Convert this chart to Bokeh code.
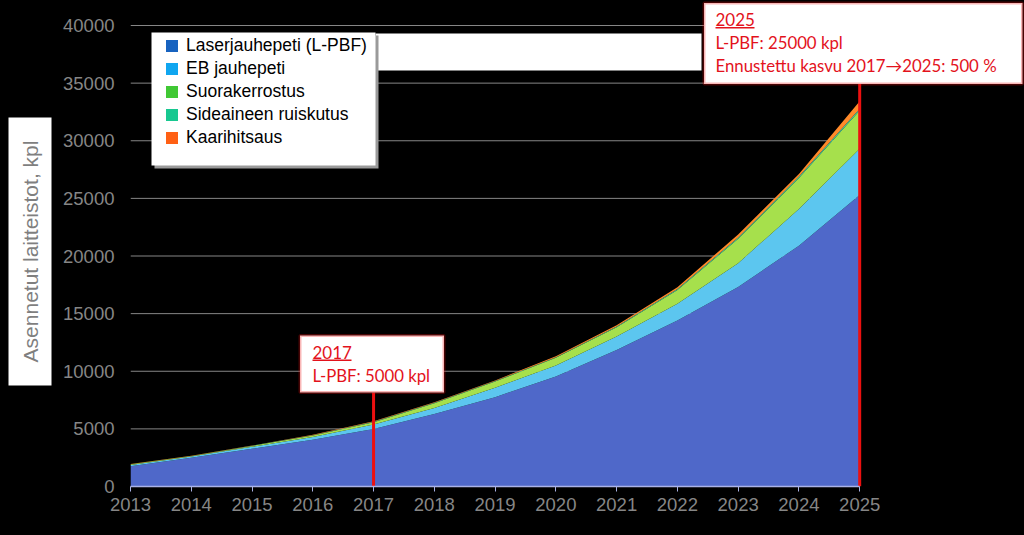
from math import pi
from bokeh.plotting import figure
from bokeh.layouts import row
from bokeh.models import (ColumnDataSource, Range1d, FixedTicker, BoxAnnotation,
                          Label, Legend, LegendItem)
from bokeh.embed import file_html
from bokeh.resources import INLINE

# ---------------- data ----------------
years = [2013, 2014, 2015, 2016, 2017, 2018, 2019, 2020, 2021, 2022, 2023, 2024, 2025]
laser = [1750, 2490, 3270, 4050, 5000, 6300, 7750, 9550, 11850, 14400, 17300, 20900, 25300]
eb    = [110, 110, 170, 250, 380, 520, 810, 950, 1160, 1450, 2080, 3180, 4000]
suora = [60, 40, 80, 120, 200, 400, 550, 670, 810, 1210, 2110, 2690, 3320]
sidea = [20, 15, 20, 30, 40, 40, 40, 50, 60, 80, 110, 120, 150]
kaari = [20, 15, 20, 30, 40, 50, 50, 90, 110, 150, 270, 230, 650]

series_keys = ["laser", "eb", "suora", "sidea", "kaari"]
series_names = ["Laserjauhepeti (L-PBF)", "EB jauhepeti", "Suorakerrostus",
                "Sideaineen ruiskutus", "Kaarihitsaus"]
y_ticks = [0, 5000, 10000, 15000, 20000, 25000, 30000, 35000, 40000]
y_title = "Asennetut laitteistot, kpl"

note_years = [2017, 2025]
note_titles = ["2017", "2025"]
note_lines = [["L-PBF: 5000 kpl"],
              ["L-PBF: 25000 kpl", "Ennustettu kasvu 2017\u21922025: 500 %"]]

# ---------------- styles / layout ----------------
area_colors = ["#4f68c9", "#5cc6ef", "#a6e04c", "#3fc9a0", "#ff8a2a"]
legend_colors = ["#1763c0", "#10a6f0", "#40c834", "#18c890", "#ff6014"]
RED_TEXT = "#e3121c"
RED_LINE = "#ec1010"
GRAY = "#868686"

PAGE_W, PAGE_H = 1024, 535
TITLE_W = 60
F_LEFT, F_RIGHT_DATA_PX, F_TOP, F_BOTTOM = 129, 859, 0, 486   # frame geometry (page px)
TEXT_SHIFT = 5.5  # correction for bokeh's alphabetic baseline placement

px_per_year = (F_RIGHT_DATA_PX - F_LEFT) / (years[-1] - years[0])
x_end = years[-1] + (PAGE_W - F_RIGHT_DATA_PX) / px_per_year
px_per_unit = (F_BOTTOM - 25) / y_ticks[-1]
y_end = (F_BOTTOM - F_TOP) / px_per_unit


def sx(px):
    return px - F_LEFT


def sy(py):
    return F_BOTTOM - py


def data_y(py):
    return (F_BOTTOM - py) / px_per_unit


# ---------------- y title figure ----------------
q = figure(width=TITLE_W, height=PAGE_H, x_range=Range1d(0, TITLE_W),
           y_range=Range1d(0, PAGE_H), output_backend="svg", toolbar_location=None,
           x_axis_location=None, y_axis_location=None,
           min_border_left=0, min_border_right=0, min_border_top=F_TOP,
           min_border_bottom=PAGE_H - F_BOTTOM,
           background_fill_color="black", border_fill_color="black",
           outline_line_color=None)
q.grid.visible = False
q.add_layout(BoxAnnotation(left=8, right=51, top=sy(117), bottom=sy(385),
                           left_units="screen", right_units="screen",
                           top_units="screen", bottom_units="screen",
                           fill_color="white", fill_alpha=1, line_color=None))
q.add_layout(Label(x=30, y=sy(251), x_units="screen", y_units="screen",
                   text=y_title, angle=pi / 2, text_align="center",
                   text_baseline="middle", text_font="Liberation Sans",
                   text_font_size="21px", text_color="#7f7f7f"))

# ---------------- main figure ----------------
source = ColumnDataSource(dict(year=years, laser=laser, eb=eb, suora=suora,
                               sidea=sidea, kaari=kaari))

p = figure(width=PAGE_W - TITLE_W, height=PAGE_H,
           x_range=Range1d(years[0], x_end), y_range=Range1d(0, y_end),
           output_backend="svg", toolbar_location=None,
           min_border_left=F_LEFT - TITLE_W, min_border_right=0,
           min_border_top=F_TOP, min_border_bottom=PAGE_H - F_BOTTOM,
           background_fill_color="black", border_fill_color="black",
           outline_line_color=None)

# gridlines limited to the data years
p.segment(x0=years[0], x1=years[-1], y0=y_ticks, y1=y_ticks,
          line_color=GRAY, line_width=1, level="underlay")

p.varea_stack(stackers=series_keys, x="year", color=area_colors, source=source)

# axes
p.xaxis.ticker = FixedTicker(ticks=years)
p.yaxis.ticker = FixedTicker(ticks=y_ticks)
p.grid.visible = False
p.xaxis.bounds = (years[0], years[-1])

for ax in (p.xaxis[0], p.yaxis[0]):
    ax.major_label_text_color = GRAY
    ax.major_label_text_font = "Liberation Sans"
    ax.major_label_text_font_size = "18.5px"
    ax.minor_tick_line_color = None

p.xaxis.axis_line_color = "#aab2e6"
p.xaxis.axis_line_width = 1.5
p.xaxis.major_tick_line_color = "#aab2e6"
p.xaxis.major_tick_in = 0
p.xaxis.major_tick_out = 5
p.xaxis.major_label_standoff = 6

p.yaxis.axis_line_color = None
p.yaxis.major_tick_line_color = None
p.yaxis.major_tick_in = 0
p.yaxis.major_tick_out = 0
p.yaxis.major_label_standoff = 16


def sbox(l, r, t, b, color):
    return BoxAnnotation(left=sx(l), right=sx(r), top=sy(t), bottom=sy(b),
                         left_units="screen", right_units="screen",
                         top_units="screen", bottom_units="screen",
                         fill_color=color, fill_alpha=1, line_color=None)


# legend background (white strip + box with shadow)
p.add_layout(sbox(374, 700, 33, 70, "white"))
p.add_layout(sbox(153, 377, 35, 168, "#9a9a9a"))
p.add_layout(sbox(150, 374, 32, 165, "white"))

# legend
items = []
for name, c in zip(series_names, legend_colors):
    r = p.varea(x=[years[0]], y1=[0], y2=[0], fill_color=c)
    items.append(LegendItem(label=name, renderers=[r]))
legend = Legend(items=items, location=(sx(163), sy(148)),
                background_fill_alpha=0, border_line_color=None,
                padding=0, margin=0, spacing=2,
                glyph_width=15, glyph_height=15, label_height=20,
                label_standoff=7, label_text_font="Liberation Sans",
                label_text_font_size="17.5px", label_text_color="black")
p.add_layout(legend)

# annotation boxes
box_geom = [(298.5, 442.5, 335, 392), (702.5, 1021, 2.5, 83.5)]
text_left = [311, 714]
title_base = [357, 24.5]
for yr, title, lines, (l, r, t, b), tx, tb in zip(note_years, note_titles, note_lines,
                                                   box_geom, text_left, title_base):
    # vertical marker from the axis up to the box
    p.segment(x0=[yr], x1=[yr], y0=[0], y1=[data_y(b)], line_color=RED_LINE,
              line_width=3)
    p.add_layout(BoxAnnotation(left=sx(l), right=sx(r), top=sy(t), bottom=sy(b),
                               left_units="screen", right_units="screen",
                               top_units="screen", bottom_units="screen",
                               fill_color="white", fill_alpha=1,
                               line_color=RED_LINE, line_width=3))
    p.add_layout(Label(x=sx(tx), y=sy(tb - TEXT_SHIFT), x_units="screen",
                       y_units="screen", text=title, text_font="Lato",
                       text_font_size="17px", text_color=RED_TEXT,
                       text_baseline="alphabetic"))
    # underline of the year
    p.add_layout(BoxAnnotation(left=sx(tx), right=sx(tx + 39), top=sy(tb + 2),
                               bottom=sy(tb + 3.5),
                               left_units="screen", right_units="screen",
                               top_units="screen", bottom_units="screen",
                               fill_color=RED_TEXT, fill_alpha=1, line_color=None))
    for i, ln in enumerate(lines):
        p.add_layout(Label(x=sx(tx), y=sy(tb + 23 * (i + 1) - TEXT_SHIFT),
                           x_units="screen", y_units="screen", text=ln,
                           text_font="Lato", text_font_size="16.8px",
                           text_color=RED_TEXT, text_baseline="alphabetic"))

layout = row(q, p)
html = file_html(layout, INLINE).replace("<body>", '<body style="background-color:#000000;">')
open("out.html", "w").write(html)
